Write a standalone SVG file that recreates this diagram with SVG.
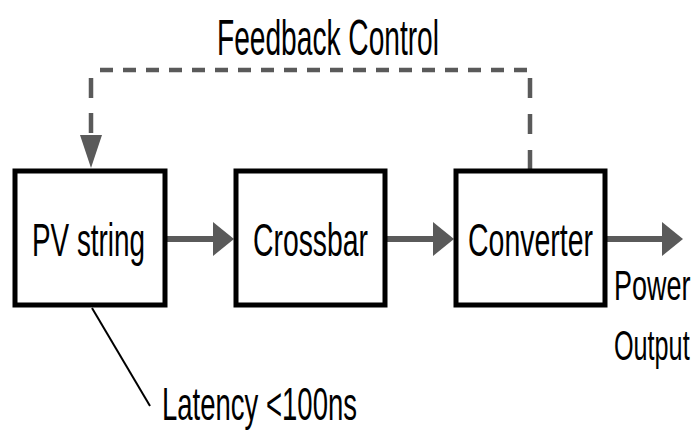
<svg xmlns="http://www.w3.org/2000/svg" width="699" height="432" viewBox="0 0 699 432">
  <style>
    .box { fill: #ffffff; stroke: #000000; stroke-width: 5; }
    .lbl { font-family: "Liberation Sans", Arial, sans-serif; fill: #000000; }
    .flow { stroke: #5a5a5a; stroke-width: 6; fill: none; }
    .head { fill: #5a5a5a; }
    .fb { stroke: #5a5a5a; stroke-width: 4.5; fill: none; }
  </style>
  <rect width="699" height="432" fill="#ffffff"/>
  <g id="connectors">
    <line class="flow" x1="167" y1="239" x2="214" y2="239"/>
    <polygon class="head" points="213,222 234,239 213,256"/>
    <line class="flow" x1="387" y1="239" x2="434" y2="239"/>
    <polygon class="head" points="433,222 454,239 433,256"/>
    <line class="flow" x1="607" y1="239" x2="663" y2="239"/>
    <polygon class="head" points="662,222 683,239 662,256"/>
    <line class="fb" x1="530" y1="170" x2="530" y2="78" stroke-dasharray="20 16"/>
    <line class="fb" x1="527" y1="70" x2="93" y2="70" stroke-dasharray="13 10"/>
    <line class="fb" x1="91" y1="78" x2="91" y2="136" stroke-dasharray="20 15"/>
    <polygon class="head" points="80,135 102,135 91,168"/>
    <line x1="92" y1="308" x2="150" y2="406" stroke="#000000" stroke-width="2"/>
  </g>
  <g id="pv-string">
    <rect class="box" x="15" y="171" width="150" height="134"/>
    <text class="lbl" x="32" y="256" font-size="47" textLength="113" lengthAdjust="spacingAndGlyphs">PV string</text>
  </g>
  <g id="crossbar">
    <rect class="box" x="236" y="171" width="149" height="134"/>
    <text class="lbl" x="253" y="256" font-size="47" textLength="115" lengthAdjust="spacingAndGlyphs">Crossbar</text>
  </g>
  <g id="converter">
    <rect class="box" x="456" y="171" width="149" height="134"/>
    <text class="lbl" x="468" y="256" font-size="47" textLength="125" lengthAdjust="spacingAndGlyphs">Converter</text>
  </g>
  <g id="labels">
    <text class="lbl" x="217" y="55" font-size="50" textLength="222" lengthAdjust="spacingAndGlyphs">Feedback Control</text>
    <text class="lbl" transform="translate(614,300) scale(1,1.58)" x="0" y="0" font-size="27">Power</text>
    <text class="lbl" transform="translate(614,360) scale(1,1.68)" x="0" y="0" font-size="25.2">Output</text>
    <text class="lbl" x="162" y="420" font-size="46" textLength="195" lengthAdjust="spacingAndGlyphs">Latency &lt;100ns</text>
  </g>
</svg>
